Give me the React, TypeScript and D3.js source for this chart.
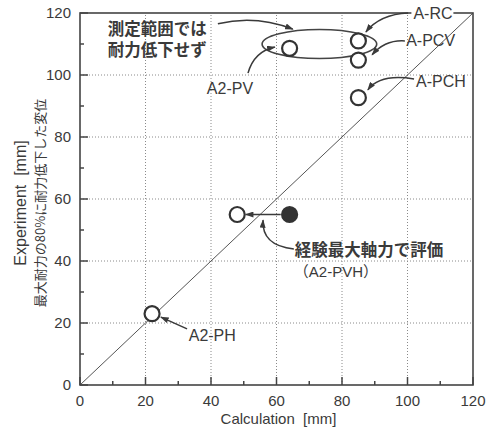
import React from 'react';
import * as d3 from 'd3';

// calculated vs. experimental displacement [mm]
const names = ['A2-PH', 'A2-PVH', 'A2-PVH(eval)', 'A2-PV', 'A-RC', 'A-PCV', 'A-PCH'];
const calcVals = [22, 48, 64, 64, 85, 85, 85];
const expVals = [23, 55, 55, 108.6, 111, 104.8, 92.7];
const filled = [false, false, true, false, false, false, false];

const majorTicks = [0, 20, 40, 60, 80, 100, 120];
const minorTicks = [10, 30, 50, 70, 90, 110];

// single-line labels: [text, x, y, anchor]
const labels: [string, number, number, string][] = [
  ['A-RC', 101.8, 120, 'start'],
  ['A-PCV', 99.6, 111.3, 'start'],
  ['A-PCH', 102.6, 98.1, 'start'],
  ['A2-PV', 45.8, 95.8, 'middle'],
  ['A2-PH', 33.2, 16.1, 'start'],
];

// two-line notes: [line1, line2, x, y of line1, y of line2]
const notes: [string, string, number, number, number][] = [
  ['測定範囲では', '耐力低下せず', 8.5, 114.8, 108.0],
  ['経験最大軸力で評価', '（A2-PVH）', 65.6, 43.4, 36.7],
];

// leader lines: start, control, end (data units)
const leaders: number[][] = [
  [42.1, 116.5, 53.4, 119.5, 65.0, 114.8],
  [100.2, 120, 91.6, 119.6, 87.3, 113.9],
  [99.2, 111, 93.1, 111.4, 89.2, 106.5],
  [102, 98.7, 91.6, 100.5, 87.9, 95.2],
  [51.3, 100.6, 53.2, 107.6, 59.5, 109],
  [32.7, 18.1, 28.7, 20.0, 24.7, 21.9],
  [61.3, 55, 56, 55, 50.6, 55],
  [65.3, 43.9, 55.4, 45.0, 55.9, 53.2],
];

// "no strength drop" ellipse: cx, cy, rx, ry
const ring = [73.1, 110, 17.5, 4.7];

const W = 496, H = 428;
const margin = { top: 13, right: 23, bottom: 43, left: 80 };
const latin = '"Liberation Sans", Arial, "Noto Sans CJK JP", sans-serif';
const cjk = '"Noto Sans CJK JP", "Liberation Sans", sans-serif';
const ink = '#3a3a3a';

export default function App() {
  const x = d3.scaleLinear().domain([0, 120]).range([margin.left, W - margin.right]);
  const y = d3.scaleLinear().domain([0, 120]).range([H - margin.bottom, margin.top]);
  const [x0, x1] = x.range();
  const [y0, y1] = y.range();

  const leaderPath = (l: number[]) => {
    const p = d3.path();
    p.moveTo(x(l[0]), y(l[1]));
    p.quadraticCurveTo(x(l[2]), y(l[3]), x(l[4]), y(l[5]));
    return p.toString();
  };

  return (
    <svg width={W} height={H} style={{ position: 'absolute', left: 0, top: 0, background: '#fff' }}>
      <defs>
        <marker id="arr" viewBox="0 0 10 7" refX="9" refY="3.5" markerWidth="9" markerHeight="6"
          markerUnits="userSpaceOnUse" orient="auto">
          <path d="M0,0 L10,3.5 L0,7 z" fill={ink} />
        </marker>
      </defs>

      {/* grid */}
      {majorTicks.slice(1, -1).map(t => (
        <g key={'g' + t} stroke="#8a8a8a" strokeWidth={1} strokeDasharray="1,2">
          <line x1={x(t)} x2={x(t)} y1={y0} y2={y1} />
          <line x1={x0} x2={x1} y1={y(t)} y2={y(t)} />
        </g>
      ))}

      {/* 1:1 line */}
      <line x1={x(0)} y1={y(0)} x2={x(120)} y2={y(120)} stroke="#555" strokeWidth={1} />

      {/* frame */}
      <rect x={x0} y={y1} width={x1 - x0} height={y0 - y1} fill="none" stroke="#444" strokeWidth={1.6} />

      {/* ticks */}
      {majorTicks.map(t => (
        <g key={'t' + t} stroke="#444" strokeWidth={1.5}>
          <line x1={x(t)} x2={x(t)} y1={y0} y2={y0 - 8} />
          <line x1={x0} x2={x0 + 8} y1={y(t)} y2={y(t)} />
        </g>
      ))}
      {minorTicks.map(t => (
        <g key={'m' + t} stroke="#444" strokeWidth={1.5}>
          <line x1={x(t)} x2={x(t)} y1={y0} y2={y0 - 4} />
          <line x1={x0} x2={x0 + 4} y1={y(t)} y2={y(t)} />
        </g>
      ))}
      {majorTicks.map(t => (
        <g key={'l' + t} fill={ink} fontFamily={latin} fontSize={15}>
          <text x={x(t)} y={y0 + 21} textAnchor="middle">{t}</text>
          <text x={x0 - 9} y={y(t)} dy="0.36em" textAnchor="end">{t}</text>
        </g>
      ))}

      {/* axis titles */}
      <text x={(x0 + x1) / 2 + 2} y={H - 4} textAnchor="middle" fill={ink} fontFamily={latin} fontSize={15}>
        Calculation{'\u00a0'} [mm]
      </text>
      <text transform={`translate(26,${(y0 + y1) / 2 + 4}) rotate(-90)`} textAnchor="middle" fill={ink}
        fontFamily={latin} fontSize={16}>
        Experiment{'\u00a0'} [mm]
      </text>
      <text transform={`translate(45,${(y0 + y1) / 2 + 4}) rotate(-90)`} textAnchor="middle" fill={ink}
        fontFamily={cjk} fontSize={13}>
        最大耐力の80%に耐力低下した変位
      </text>

      {/* ellipse */}
      <ellipse cx={x(ring[0])} cy={y(ring[1])} rx={x(ring[2]) - x(0)} ry={y(0) - y(ring[3])}
        fill="none" stroke="#444" strokeWidth={1.6} />

      {/* points */}
      {calcVals.map((c, i) => (
        <circle key={names[i]} cx={x(c)} cy={y(expVals[i])} r={7.5}
          fill={filled[i] ? '#333' : '#fff'} stroke="#333" strokeWidth={2.2} />
      ))}

      {/* leaders */}
      {leaders.map((l, i) => (
        <path key={'a' + i} d={leaderPath(l)} fill="none" stroke={ink} strokeWidth={1.5} markerEnd="url(#arr)" />
      ))}

      {/* labels */}
      {labels.map(([t, lx, ly, anchor]) => (
        <g key={t}>
          {t === 'A-RC' && <rect x={x(lx) - 2} y={y(ly) - 9} width={42} height={18} fill="#fff" />}
          <text x={x(lx)} y={y(ly)} dy="0.36em" textAnchor={anchor} fill={ink} fontFamily={latin} fontSize={16}>
            {t}
          </text>
        </g>
      ))}
      {notes.map(([a, b, lx, ya, yb]) => {
        const paren = b.startsWith('（');
        return (
          <g key={a} fill={ink} fontFamily={latin}>
            <text x={x(lx)} y={y(ya)} dy="0.36em" fontSize={16.5} fontWeight="bold">{a}</text>
            <text x={x(lx) - (paren ? 1 : 0)} y={y(yb)} dy="0.36em" fontSize={paren ? 15 : 16.5}
              fontWeight={paren ? 'normal' : 'bold'}>{b}</text>
          </g>
        );
      })}
    </svg>
  );
}
